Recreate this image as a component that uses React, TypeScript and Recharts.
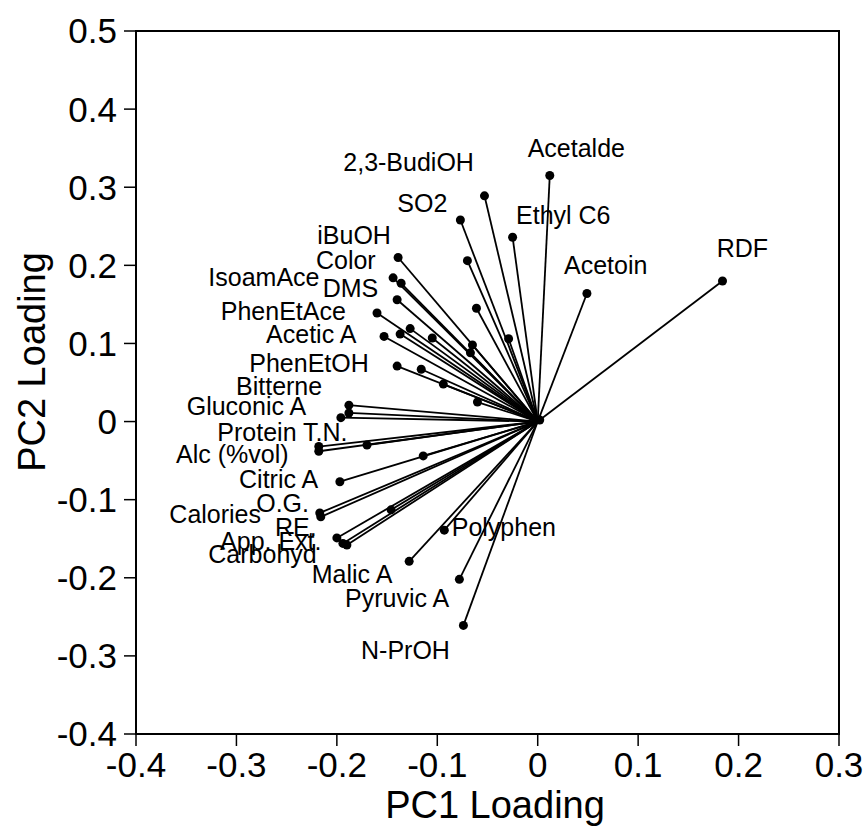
import React from "react";
import {
  ComposedChart,
  XAxis,
  YAxis,
  Scatter,
  ReferenceLine,
  ReferenceArea,
} from "recharts";

// loadings for every variable (PC1, PC2)
const pc1 = [
  0.012, 0.184, 0.049, -0.025, -0.053, -0.077, -0.07, -0.061, -0.139, -0.144,
  -0.136, -0.14, -0.16, -0.153, -0.137, -0.127, -0.105, -0.029, -0.065, -0.067,
  -0.14, -0.116, -0.094, -0.06, -0.188, -0.188, -0.196, -0.218, -0.218, -0.17,
  -0.114, -0.197, -0.217, -0.216, -0.146, -0.2, -0.194, -0.19, -0.093, -0.128,
  -0.078, -0.074, 0.002,
];
const pc2 = [
  0.315, 0.18, 0.164, 0.236, 0.289, 0.258, 0.206, 0.145, 0.21, 0.184,
  0.177, 0.156, 0.139, 0.109, 0.112, 0.119, 0.107, 0.106, 0.098, 0.088,
  0.071, 0.067, 0.048, 0.025, 0.021, 0.011, 0.005, -0.032, -0.038, -0.03,
  -0.044, -0.077, -0.117, -0.122, -0.113, -0.149, -0.156, -0.158, -0.139, -0.179,
  -0.202, -0.261, 0.002,
];

// label text and where it sits (text start, baseline) in loading units
const labelNames = [
  "2,3-BudiOH", "SO2", "iBuOH", "Color", "IsoamAce", "DMS", "PhenEtAce",
  "Acetic A", "PhenEtOH", "Bitterne", "Gluconic A", "Protein T.N.",
  "Alc (%vol)", "Citric A", "O.G.", "Calories", "RE.", "App. Ext.",
  "Carbohyd", "Polyphen", "Malic A", "Pyruvic A", "N-PrOH", "Acetalde",
  "Ethyl C6", "Acetoin", "RDF",
];
const labelPc1 = [
  -0.1936, -0.1398, -0.2195, -0.2208, -0.328, -0.2141, -0.3156,
  -0.2705, -0.2872, -0.3004, -0.3495, -0.319,
  -0.3601, -0.2974, -0.2803, -0.3668, -0.2616, -0.3163,
  -0.328, -0.0856, -0.225, -0.1919, -0.1759, -0.01,
  -0.0216, 0.0262, 0.1782,
];
const labelPc2 = [
  0.3212, 0.2687, 0.2274, 0.195, 0.174, 0.1599, 0.1301,
  0.1002, 0.0639, 0.0341, 0.0085, -0.0248,
  -0.0534, -0.0854, -0.1153, -0.1302, -0.1465, -0.1644,
  -0.1806, -0.1465, -0.207, -0.237, -0.3043, 0.3391,
  0.253, 0.189, 0.2111,
];

const xTicks = [-0.4, -0.3, -0.2, -0.1, 0, 0.1, 0.2, 0.3];
const yTicks = [-0.4, -0.3, -0.2, -0.1, 0, 0.1, 0.2, 0.3, 0.4, 0.5];

const fmt = (v: number) => (v === 0 ? "0" : v.toFixed(1));

export default function App() {
  const points = pc1.map((x, i) => ({ x, y: pc2[i] }));
  const labels = labelNames.map((name, i) => ({
    x: labelPc1[i],
    y: labelPc2[i],
    name,
  }));

  return (
    <div style={{ position: "absolute", left: 0, top: 0 }}>
      <ComposedChart
        width={866}
        height={828}
        margin={{ top: 31, right: 27, bottom: 0, left: 0 }}
        style={{ fontFamily: "'Liberation Sans', Arial, sans-serif" }}
      >
        <XAxis
          type="number"
          dataKey="x"
          domain={[-0.4, 0.3]}
          ticks={xTicks}
          tickFormatter={fmt}
          height={94}
          axisLine={false}
          tickSize={12}
          tickMargin={6}
          tickLine={{ stroke: "#000", strokeWidth: 1.5 }}
          tick={{ fill: "#000", fontSize: 35 }}
          interval={0}
          allowDataOverflow
          label={{
            content: () => (
              <text
                x={495}
                y={818}
                textAnchor="middle"
                fontSize={38}
                fill="#000"
              >
                PC1 Loading
              </text>
            ),
          }}
        />
        <YAxis
          type="number"
          dataKey="y"
          domain={[-0.4, 0.5]}
          ticks={yTicks}
          tickFormatter={fmt}
          width={136}
          axisLine={false}
          tickSize={12}
          tickMargin={7}
          tickLine={{ stroke: "#000", strokeWidth: 1.5 }}
          tick={{ fill: "#000", fontSize: 35 }}
          interval={0}
          allowDataOverflow
          label={{
            content: () => (
              <text
                transform="translate(45,362) rotate(-90)"
                textAnchor="middle"
                fontSize={38}
                fill="#000"
              >
                PC2 Loading
              </text>
            ),
          }}
        />
        <ReferenceArea
          x1={-0.4}
          x2={0.3}
          y1={-0.4}
          y2={0.5}
          fill="none"
          fillOpacity={0}
          stroke="#000"
          strokeWidth={2}
        />
        {points.map((p, i) => (
          <ReferenceLine
            key={i}
            segment={[
              { x: 0, y: 0 },
              { x: p.x, y: p.y },
            ]}
            stroke="#000"
            strokeWidth={1.8}
          />
        ))}
        <Scatter
          data={points}
          isAnimationActive={false}
          shape={(props: any) => (
            <circle cx={props.cx} cy={props.cy} r={4.5} fill="#000" />
          )}
        />
        <Scatter
          data={labels}
          isAnimationActive={false}
          shape={(props: any) => (
            <text
              x={props.cx}
              y={props.cy}
              fontSize={25}
              fill="#000"
              textAnchor="start"
            >
              {props.payload.name}
            </text>
          )}
        />
      </ComposedChart>
    </div>
  );
}
